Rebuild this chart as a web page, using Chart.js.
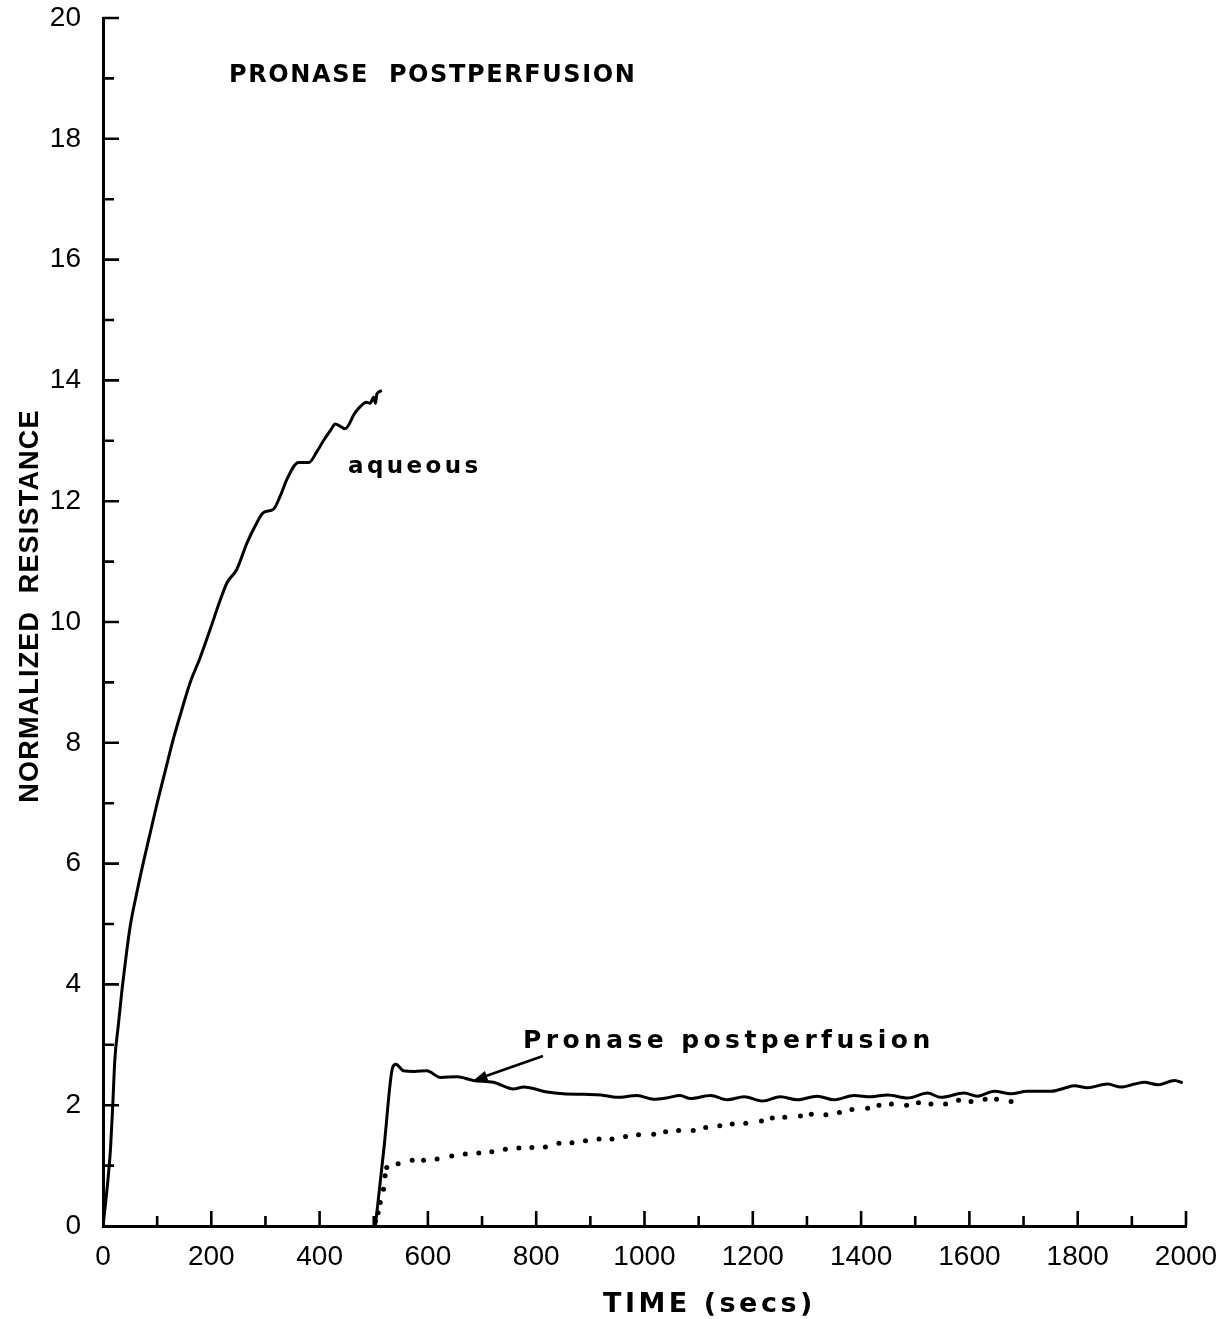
<!DOCTYPE html>
<html>
<head>
<meta charset="utf-8">
<title>Pronase postperfusion</title>
<script src="https://cdn.jsdelivr.net/npm/chart.js@4.4.1/dist/chart.umd.min.js"></script>
<style>
  html, body { margin: 0; padding: 0; background: #fff; }
  canvas { display: block; }
</style>
</head>
<body>
<canvas id="resistanceChart" width="1226" height="1319"></canvas>
<script>
// aqueous perfusion (secs, normalized resistance)
const aqTime = [0, 5, 10, 14, 18, 22, 28, 35, 41, 50, 62, 74, 87, 100, 114, 128, 144, 161, 179, 198, 216, 229,
  247, 266, 281, 296, 315, 328, 340, 361, 380, 395, 407, 420, 429, 447, 466, 487, 493, 500, 503, 506, 515];
const aqValue = [0, 0.4, 0.85, 1.3, 2.0, 2.77, 3.3, 3.9, 4.35, 4.95, 5.5, 6.0, 6.5, 7.0, 7.5, 8.0, 8.5, 9.0, 9.4, 9.88, 10.35, 10.65,
  10.87, 11.31, 11.59, 11.81, 11.87, 12.1, 12.37, 12.64, 12.64, 12.82, 13.0, 13.17, 13.28, 13.2, 13.47, 13.64, 13.62, 13.72, 13.62, 13.78, 13.83];

// pronase postperfusion, solid trace
const prTime = [503, 519, 535, 541, 555, 575, 598, 623, 654, 684, 721, 758, 777, 820,
  850, 888, 920, 949, 986, 1017, 1040, 1066, 1085, 1122, 1153, 1184, 1218, 1251, 1282, 1319,
  1350, 1387, 1418, 1449, 1486, 1523, 1547, 1590, 1615, 1646, 1677, 1707, 1751, 1775,
  1794, 1818, 1855, 1880, 1905, 1923, 1948, 1979, 1994];
const prValue = [0, 1.3, 2.63, 2.68, 2.57, 2.56, 2.57, 2.46, 2.47, 2.41, 2.38, 2.27, 2.30, 2.22,
  2.19, 2.18, 2.17, 2.13, 2.16, 2.10, 2.12, 2.16, 2.11, 2.16, 2.09, 2.14, 2.07, 2.14, 2.09, 2.15,
  2.09, 2.16, 2.14, 2.17, 2.12, 2.20, 2.13, 2.20, 2.15, 2.23, 2.19, 2.23, 2.23, 2.28,
  2.32, 2.29, 2.35, 2.30, 2.35, 2.38, 2.34, 2.41, 2.37];

// dotted trace
const dotTime = [503, 508, 512, 518, 521, 524, 545, 571, 592, 617, 644, 669, 694, 718, 743, 768,
  792, 817, 842, 866, 891, 916, 940, 965, 989, 1017, 1039, 1063, 1090, 1113, 1139, 1162, 1187, 1216, 1236, 1259,
  1288, 1308, 1335, 1360, 1383, 1412, 1433, 1456, 1484, 1506, 1529, 1556, 1580, 1603, 1629, 1650, 1677];
const dotValue = [0.08, 0.22, 0.39, 0.61, 0.83, 0.97, 1.03, 1.09, 1.09, 1.11, 1.16, 1.19, 1.21, 1.23, 1.27, 1.29,
  1.30, 1.31, 1.37, 1.38, 1.41, 1.44, 1.44, 1.48, 1.51, 1.52, 1.56, 1.58, 1.58, 1.63, 1.66, 1.69, 1.70, 1.74, 1.79, 1.80,
  1.82, 1.85, 1.84, 1.88, 1.93, 1.95, 2.00, 2.02, 2.00, 2.04, 2.02, 2.02, 2.08, 2.06, 2.10, 2.10, 2.06];

const xTicks = [0, 200, 400, 600, 800, 1000, 1200, 1400, 1600, 1800, 2000];
const yTicks = [0, 2, 4, 6, 8, 10, 12, 14, 16, 18, 20];

// where the arrow from the "Pronase postperfusion" label lands on the trace
const arrowTarget = { x: 684, y: 2.41 };

function toPoints(xs, ys) {
  return xs.map((x, i) => ({ x: x, y: ys[i] }));
}

const tickFont = { family: 'Liberation Sans', size: 28 };

// inward tick marks, major at labels and minor half way between
const innerTicks = {
  id: 'innerTicks',
  afterDraw(chart) {
    const { ctx, chartArea, scales: { x, y } } = chart;
    ctx.save();
    ctx.strokeStyle = '#000';
    ctx.lineWidth = 2.6;
    ctx.beginPath();
    for (let v = 1; v <= 20; v++) {
      const py = y.getPixelForValue(v);
      const len = v % 2 ? 11 : 16;
      ctx.moveTo(chartArea.left, py);
      ctx.lineTo(chartArea.left + len, py);
    }
    for (let t = 100; t <= 2000; t += 100) {
      const px = x.getPixelForValue(t);
      const len = t % 200 ? 10 : 15;
      ctx.moveTo(px, chartArea.bottom);
      ctx.lineTo(px, chartArea.bottom - len);
    }
    ctx.stroke();
    ctx.restore();
  }
};

// titles, curve labels and the arrow
const labels = {
  id: 'labels',
  afterDraw(chart) {
    const { ctx, scales: { x, y } } = chart;
    ctx.save();
    ctx.fillStyle = '#000';
    ctx.strokeStyle = '#000';
    ctx.textBaseline = 'alphabetic';

    ctx.font = 'bold 24px "DejaVu Sans"';
    ctx.letterSpacing = '1.6px';
    ctx.fillText('PRONASE  POSTPERFUSION', 229, 82);

    ctx.font = 'bold 23px "DejaVu Sans"';
    ctx.letterSpacing = '3.4px';
    ctx.fillText('aqueous', 348, 473);

    ctx.font = 'bold 25px "DejaVu Sans"';
    ctx.letterSpacing = '4.4px';
    ctx.fillText('Pronase postperfusion', 523, 1048);

    ctx.font = 'bold 27px "DejaVu Sans"';
    ctx.letterSpacing = '3.5px';
    ctx.fillText('TIME (secs)', 603, 1312);

    // y axis title
    ctx.save();
    ctx.translate(38, 606);
    ctx.rotate(-Math.PI / 2);
    ctx.font = 'bold 27px "Liberation Sans"';
    ctx.letterSpacing = '1.2px';
    ctx.textAlign = 'center';
    ctx.fillText('NORMALIZED  RESISTANCE', 0, 0);
    ctx.restore();

    // arrow
    ctx.letterSpacing = '0px';
    const tx = x.getPixelForValue(arrowTarget.x);
    const ty = y.getPixelForValue(arrowTarget.y);
    const sx = 543, sy = 1056;
    const ang = Math.atan2(ty - sy, tx - sx);
    ctx.lineWidth = 2.6;
    ctx.beginPath();
    ctx.moveTo(sx, sy);
    ctx.lineTo(tx - 8 * Math.cos(ang), ty - 8 * Math.sin(ang));
    ctx.stroke();
    ctx.beginPath();
    ctx.moveTo(tx, ty);
    ctx.lineTo(tx - 14 * Math.cos(ang) + 5 * Math.sin(ang), ty - 14 * Math.sin(ang) - 5 * Math.cos(ang));
    ctx.lineTo(tx - 14 * Math.cos(ang) - 5 * Math.sin(ang), ty - 14 * Math.sin(ang) + 5 * Math.cos(ang));
    ctx.closePath();
    ctx.fill();
    ctx.restore();
  }
};

const ctx = document.getElementById('resistanceChart').getContext('2d');

const resistanceChart = new Chart(ctx, {
  type: 'scatter',
  data: {
    datasets: [{
      label: 'aqueous',
      data: toPoints(aqTime, aqValue),
      showLine: true,
      borderColor: '#000',
      borderWidth: 3,
      pointRadius: 0,
      cubicInterpolationMode: 'monotone'
    }, {
      label: 'Pronase postperfusion',
      data: toPoints(prTime, prValue),
      showLine: true,
      borderColor: '#000',
      borderWidth: 3,
      pointRadius: 0,
      cubicInterpolationMode: 'monotone'
    }, {
      label: 'dotted',
      data: toPoints(dotTime, dotValue),
      showLine: false,
      pointRadius: 2.5,
      pointBorderWidth: 0,
      backgroundColor: '#000',
      borderColor: '#000'
    }]
  },
  options: {
    responsive: false,
    animation: false,
    layout: { padding: { top: 18, right: 40, left: 0, bottom: 0 } },
    plugins: {
      legend: { display: false },
      tooltip: { enabled: false }
    },
    scales: {
      x: {
        type: 'linear',
        min: 0,
        max: 2000,
        afterBuildTicks: (scale) => { scale.ticks = xTicks.map(v => ({ value: v })); },
        grid: { display: false },
        border: { display: true, color: '#000', width: 3 },
        ticks: {
          color: '#000', font: tickFont, padding: 6, maxRotation: 0, autoSkip: false,
          callback: (value) => String(value)
        },
        afterFit: (scale) => {
          scale.height = 93;
          scale.paddingLeft = 0;
          scale.paddingRight = 0;
        }
      },
      y: {
        min: 0,
        max: 20,
        afterBuildTicks: (scale) => { scale.ticks = yTicks.map(v => ({ value: v })); },
        grid: { display: false },
        border: { display: true, color: '#000', width: 3 },
        ticks: { color: '#000', font: tickFont, padding: 14, callback: (value) => String(value) },
        afterFit: (scale) => {
          scale.width = 103;
          scale.paddingTop = 0;
          scale.paddingBottom = 0;
        }
      }
    }
  },
  plugins: [innerTicks, labels]
});
</script>
</body>
</html>
